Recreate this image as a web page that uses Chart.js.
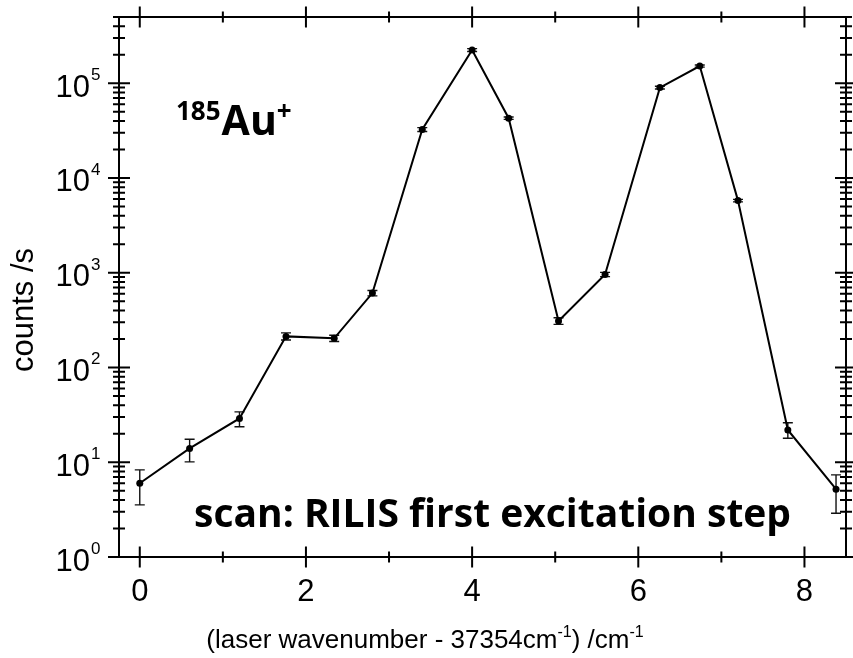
<!DOCTYPE html>
<html>
<head>
<meta charset="utf-8">
<script src="https://cdn.jsdelivr.net/npm/chart.js@4/dist/chart.umd.min.js"></script>
<style>
  html, body { margin: 0; padding: 0; background: #fff; }
  #wrap { width: 853px; height: 658px; position: relative; }
</style>
</head>
<body>
<div id="wrap"><canvas id="c"></canvas></div>
<script>
// Laser detuning (cm^-1, relative to 37354 cm^-1)
const detuning = [0, 0.6, 1.2, 1.76, 2.34, 2.8, 3.4, 4.0, 4.44, 5.04, 5.6, 6.26, 6.74, 7.2, 7.8, 8.38];
// Ion count rate (counts/s) and its error band
const countRate = [6.0, 14.0, 29, 213, 203, 610, 32500, 224000, 42800, 310, 960, 89900, 152000, 5770, 21.9, 5.2];
const countLow  = [3.55, 10.1, 23.7, 195, 188, 570, 31000, 216000, 41500, 285, 910, 87000, 148000, 5600, 17.9, 2.9];
const countHigh = [8.3, 17.5, 34, 232, 219, 650, 34000, 232000, 44000, 335, 1010, 93000, 156000, 5950, 26.1, 7.35];

// Axis ranges and tick labels
const xRange = [-0.25, 8.5];
const yRange = [1, 5e5];
const xTickLabels = [0, 2, 4, 6, 8];
const xMinorTicks = [1, 3, 5, 7];
const yDecadeExponents = [0, 1, 2, 3, 4, 5];

const points = detuning.map((x, i) => ({ x: x, y: countRate[i] }));

const framePlugin = {
  id: 'frame',
  beforeDatasetsDraw(chart) {
    const { ctx } = chart;
    const xs = chart.scales.x, ys = chart.scales.y;
    ctx.save();
    ctx.strokeStyle = '#111';
    ctx.lineWidth = 1.4;
    const cap = 5;
    detuning.forEach((x, i) => {
      const px = xs.getPixelForValue(x);
      const yl = ys.getPixelForValue(countLow[i]);
      const yh = ys.getPixelForValue(countHigh[i]);
      ctx.beginPath();
      ctx.moveTo(px, yl); ctx.lineTo(px, yh);
      ctx.moveTo(px - cap, yl); ctx.lineTo(px + cap, yl);
      ctx.moveTo(px - cap, yh); ctx.lineTo(px + cap, yh);
      ctx.stroke();
    });
    ctx.restore();
  },
  afterDraw(chart) {
    const { ctx, chartArea: a } = chart;
    const xs = chart.scales.x, ys = chart.scales.y;
    ctx.save();
    ctx.strokeStyle = '#000';
    ctx.fillStyle = '#000';
    ctx.lineWidth = 2;

    // frame
    ctx.strokeRect(a.left, a.top, a.right - a.left, a.bottom - a.top);

    // log ticks on left and right, crossing the axis
    ctx.beginPath();
    for (const e of yDecadeExponents) {
      for (let m = 1; m <= 9; m++) {
        const v = m * Math.pow(10, e);
        if (v > yRange[1]) break;
        const len = m === 1 ? 11 : 6;
        const y = ys.getPixelForValue(v);
        ctx.moveTo(a.left - len, y); ctx.lineTo(a.left + len, y);
        ctx.moveTo(a.right - len, y); ctx.lineTo(a.right + len, y);
      }
    }
    // x ticks on bottom and top
    const xt = xTickLabels.map(v => [v, 10.5]).concat(xMinorTicks.map(v => [v, 5.5]));
    for (const [v, len] of xt) {
      const x = xs.getPixelForValue(v);
      ctx.moveTo(x, a.bottom - len); ctx.lineTo(x, a.bottom + len);
      ctx.moveTo(x, a.top - len); ctx.lineTo(x, a.top + len);
    }
    ctx.stroke();

    // y tick labels 10^n
    for (const e of yDecadeExponents) {
      const y = ys.getPixelForValue(Math.pow(10, e));
      ctx.font = '31px "Liberation Sans", Arial, sans-serif';
      ctx.textAlign = 'right';
      ctx.textBaseline = 'alphabetic';
      ctx.fillText('10', a.left - 29, y + 13.5);
      ctx.font = '17px "Liberation Sans", Arial, sans-serif';
      ctx.textAlign = 'left';
      ctx.fillText(String(e), a.left - 28, y - 3);
    }

    // x tick labels
    ctx.font = '31px "Liberation Sans", Arial, sans-serif';
    ctx.textAlign = 'center';
    for (const v of xTickLabels) {
      ctx.fillText(String(v), xs.getPixelForValue(v), a.bottom + 44);
    }

    // y axis title
    ctx.save();
    ctx.translate(33, 310);
    ctx.rotate(-Math.PI / 2);
    ctx.font = '31px "Liberation Sans", Arial, sans-serif';
    ctx.textAlign = 'center';
    ctx.fillText('counts /s', 0, 0);
    ctx.restore();

    // x axis title with superscripts
    const parts = [
      ['(laser wavenumber - 37354cm', 26, 0],
      ['-1', 16, -11],
      [') /cm', 26, 0],
      ['-1', 16, -11]
    ];
    ctx.textAlign = 'left';
    let total = 0;
    for (const [t, s] of parts) {
      ctx.font = s + 'px "Liberation Sans", Arial, sans-serif';
      total += ctx.measureText(t).width;
    }
    let cx = 425 - total / 2;
    for (const [t, s, dy] of parts) {
      ctx.font = s + 'px "Liberation Sans", Arial, sans-serif';
      ctx.fillText(t, cx, 648 + dy);
      cx += ctx.measureText(t).width;
    }

    // isotope label
    let ix = 176;
    ctx.font = 'bold 26px "Open Sans", sans-serif';
    ctx.fillText('185', ix, 120);
    ix += ctx.measureText('185').width + 1;
    ctx.font = 'bold 41px "Open Sans", sans-serif';
    ctx.fillText('Au', ix, 135);
    ix += ctx.measureText('Au').width;
    ctx.font = 'bold 26px "Open Sans", sans-serif';
    ctx.fillText('+', ix, 120);

    // scan annotation
    ctx.font = 'bold 39px "Open Sans", sans-serif';
    ctx.fillText('scan: RILIS first excitation step', 194, 527);

    ctx.restore();
  }
};

new Chart(document.getElementById('c'), {
  type: 'scatter',
  data: {
    datasets: [{
      data: points,
      showLine: true,
      borderColor: '#000',
      borderWidth: 2,
      backgroundColor: '#000',
      pointRadius: 3.5,
      pointBorderWidth: 0,
      tension: 0,
      clip: false
    }]
  },
  options: {
    responsive: true,
    maintainAspectRatio: false,
    animation: false,
    events: [],
    layout: { padding: { left: 119, right: 7, top: 17, bottom: 101 } },
    plugins: { legend: { display: false }, tooltip: { enabled: false } },
    scales: {
      x: { type: 'linear', min: xRange[0], max: xRange[1], display: false },
      y: { type: 'logarithmic', min: yRange[0], max: yRange[1], display: false }
    }
  },
  plugins: [framePlugin]
});
</script>
</body>
</html>
